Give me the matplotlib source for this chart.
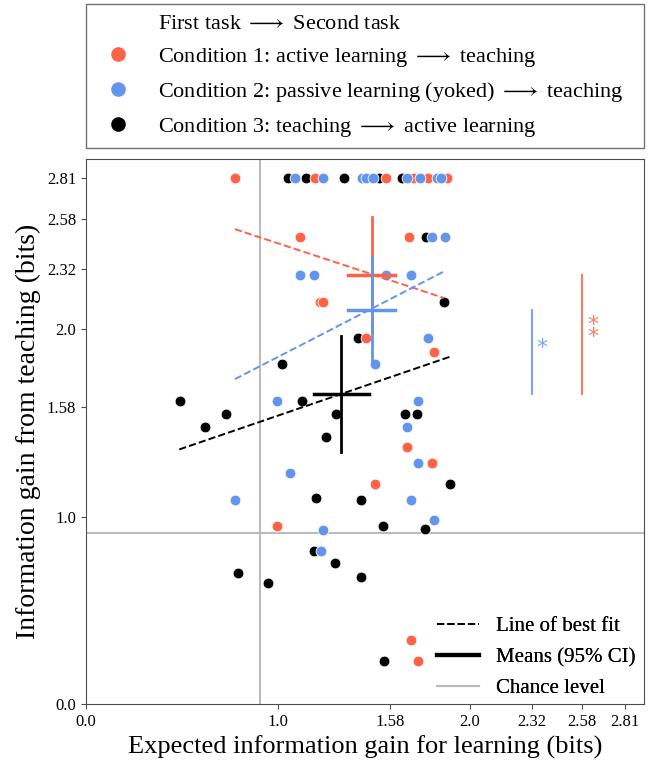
import numpy as np
import matplotlib.pyplot as plt
from matplotlib.lines import Line2D

plt.rcParams['font.family'] = ['Liberation Serif', 'DejaVu Serif']
plt.rcParams['mathtext.fontset'] = 'stix'

RED = 'tomato'
BLUE = 'cornflowerblue'
BLACK = 'black'

# Condition 1: active learning -> teaching
c1_x = [0.778, 1.193, 1.5625, 1.705, 1.783, 1.879, 1.115, 1.684, 1.22, 1.235,
        1.457, 1.8125, 1.674, 1.802, 1.505, 0.997, 1.696, 1.732]
c1_y = [2.807, 2.807, 2.807, 2.807, 2.807, 2.807, 2.49, 2.49, 2.146, 2.146,
        1.955, 1.879, 1.373, 1.283, 1.176, 0.948, 0.339, 0.232]

# Condition 2: passive learning (yoked) -> teaching
c2_x = [1.089, 1.233, 1.436, 1.458, 1.493, 1.674, 1.740, 1.83, 1.852,
        1.804, 1.873, 1.115, 1.189, 1.561, 1.693, 1.783, 1.505, 0.997, 1.731,
        1.674, 1.731, 1.0625, 0.778, 1.696, 1.8125, 1.233, 1.224]
c2_y = [2.807, 2.807, 2.807, 2.807, 2.807, 2.807, 2.807, 2.807, 2.807,
        2.49, 2.49, 2.29, 2.29, 2.29, 2.29, 1.955, 1.813, 1.617, 1.617,
        1.479, 1.283, 1.23, 1.0856, 1.0856, 0.979, 0.930, 0.818]

# Condition 3: teaching -> active learning
c3_x = [1.054, 1.144, 1.342, 1.528, 1.649, 1.769, 1.865, 1.418, 1.023, 0.49,
        1.128, 0.729, 1.302, 1.661, 1.726, 0.620, 1.253, 1.899, 1.198, 1.434,
        1.547, 1.766, 1.189, 1.297, 0.793, 1.434, 0.950, 1.552]
c3_y = [2.807, 2.807, 2.807, 2.807, 2.807, 2.49, 2.146, 1.955, 1.813, 1.617,
        1.617, 1.545, 1.545, 1.545, 1.545, 1.479, 1.426, 1.176, 1.098, 1.0856,
        0.948, 0.936, 0.818, 0.752, 0.699, 0.675, 0.645, 0.232]

# lines of best fit (x start/end, y start/end)
fit_x = {'c1': [0.776, 1.865], 'c2': [0.776, 1.87], 'c3': [0.486, 1.901]}
fit_y = {'c1': [2.533, 2.166], 'c2': [1.733, 2.31], 'c3': [1.358, 1.854]}

# means and 95% CI half widths
mean_x = [1.488, 1.488, 1.331]
mean_y = [2.289, 2.103, 1.652]
ci_x = [0.123, 0.123, 0.144]
ci_y = [0.308, 0.28, 0.31]

chance_x = 0.905
chance_y = 0.914

tick_vals = [0.0, 1.0, np.log2(3), 2.0, np.log2(5), np.log2(6), np.log2(7)]
tick_labels = ['0.0', '1.0', '1.58', '2.0', '2.32', '2.58', '2.81']

fig = plt.figure(figsize=(6.52, 7.61), dpi=100)
ax = fig.add_axes([0.1319, 0.0749, 0.8558, 0.7162])

ax.axvline(chance_x, color='#bbbbbb', lw=1.5, zorder=1)
ax.axhline(chance_y, color='#bbbbbb', lw=1.5, zorder=1)

ax.scatter(c3_x, c3_y, s=60, color=BLACK, edgecolor='white', lw=0.6, zorder=3)
ax.scatter(c1_x, c1_y, s=60, color=RED, edgecolor='white', lw=0.6, zorder=3)
ax.scatter(c2_x, c2_y, s=60, color=BLUE, edgecolor='white', lw=0.6, zorder=3)

for key, col in [('c1', RED), ('c2', BLUE), ('c3', BLACK)]:
    ax.plot(fit_x[key], fit_y[key], ls='--', color=col, lw=1.4, zorder=4)

for i, col in enumerate([RED, BLUE, BLACK]):
    ax.plot([mean_x[i], mean_x[i]], [mean_y[i] - ci_y[i], mean_y[i] + ci_y[i]],
            color=col, lw=2, zorder=5)
    ax.plot([mean_x[i] - ci_x[i], mean_x[i] + ci_x[i]], [mean_y[i], mean_y[i]],
            color=col, lw=2.5, zorder=5)

# significance bars
ax.plot([np.log2(5), np.log2(5)], [mean_y[2], mean_y[1]], color=BLUE, lw=1.5, alpha=0.85)
ax.text(np.log2(5) + 0.055, 1.897, '*', color=BLUE, fontsize=16, ha='center', va='center',
        alpha=0.85, family='DejaVu Sans')
ax.plot([np.log2(6), np.log2(6)], [mean_y[2], mean_y[0]], color=RED, lw=1.5, alpha=0.85)
ax.text(np.log2(6) + 0.055, 1.99, '*\n*', color=RED, fontsize=16, ha='center', va='center',
        alpha=0.85, linespacing=0.55, family='DejaVu Sans')

lim = np.log2(7) + 0.1
ax.set_xlim(0, lim)
ax.set_ylim(0, lim)
ax.set_xticks(tick_vals)
ax.set_xticklabels(tick_labels, fontsize=12)
ax.set_yticks(tick_vals)
ax.set_yticklabels(tick_labels, fontsize=12)
for s in ax.spines.values():
    s.set_color('0.3')
ax.tick_params(color='0.3')

ax.set_xlabel('Expected information gain for learning (bits)', fontsize=19)
ax.set_ylabel('Information gain from teaching (bits)', fontsize=20)

# bottom right legend
h_in = [Line2D([], [], color='black', ls='--', lw=1.4),
        Line2D([], [], color='black', lw=3),
        Line2D([], [], color='#bbbbbb', lw=1.5)]
ax.legend(h_in, ['Line of best fit', 'Means (95% CI)', 'Chance level'],
          loc='lower right', bbox_to_anchor=(1.018, -0.024), frameon=False,
          fontsize=15, labelspacing=0.55)

# top legend
h_top = [Line2D([], [], ls='none', marker='o', color='none'),
         Line2D([], [], ls='none', marker='o', color=RED, markersize=9.5),
         Line2D([], [], ls='none', marker='o', color=BLUE, markersize=9.5),
         Line2D([], [], ls='none', marker='o', color=BLACK, markersize=9.5)]
lab_top = [r'First task $\longrightarrow$ Second task',
           r'Condition 1: active learning $\longrightarrow$ teaching',
           r'Condition 2: passive learning (yoked) $\longrightarrow$ teaching',
           r'Condition 3: teaching $\longrightarrow$ active learning']
leg = fig.legend(h_top, lab_top, loc='lower left', bbox_to_anchor=(0.1319, 0.8055, 0.8558, 0.18),
                 mode='expand', fontsize=16, labelspacing=0.52, borderpad=0.42,
                 fancybox=False, edgecolor='0.3', borderaxespad=0)
ax.add_artist(ax.get_legend())

fig.savefig('out.png', dpi=100)
